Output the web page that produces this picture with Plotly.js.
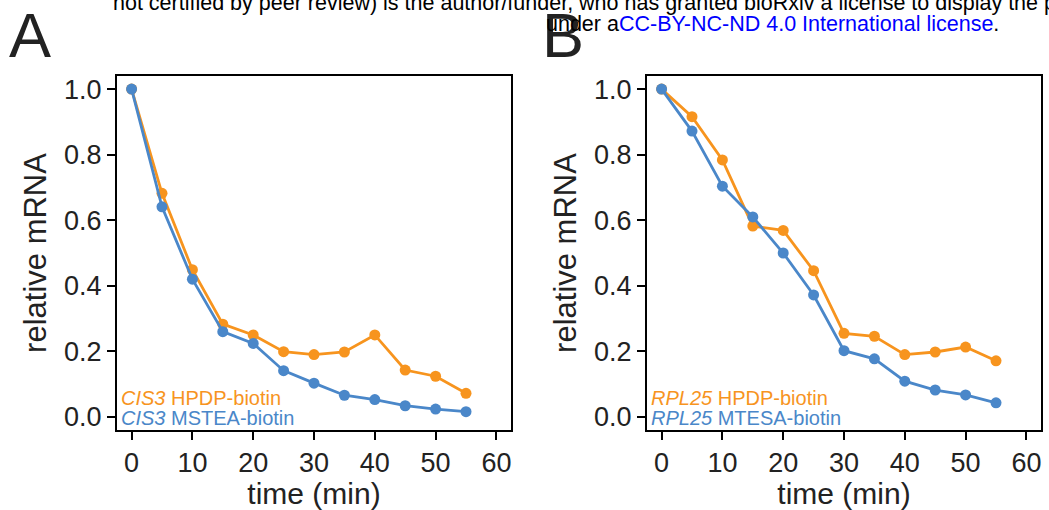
<!DOCTYPE html>
<html>
<head>
<meta charset="utf-8">
<script src="https://cdn.plot.ly/plotly-3.0.1.min.js"></script>
<style>html,body{margin:0;padding:0;background:#fff;}#chart{width:1049px;height:510px;}</style>
</head>
<body>
<div id="chart"></div>
<script>
// time points (min)
const timeMin = [0, 5, 10, 15, 20, 25, 30, 35, 40, 45, 50, 55];

// Panel A: CIS3
const cis3HPDP  = [1.0, 0.682, 0.449, 0.283, 0.250, 0.199, 0.190, 0.198, 0.250, 0.143, 0.124, 0.072];
const cis3MSTEA = [1.0, 0.641, 0.420, 0.260, 0.224, 0.141, 0.103, 0.066, 0.053, 0.034, 0.024, 0.016];

// Panel B: RPL25
const rpl25HPDP  = [1.0, 0.916, 0.784, 0.582, 0.569, 0.446, 0.255, 0.246, 0.190, 0.198, 0.213, 0.171];
const rpl25MTESA = [1.0, 0.872, 0.704, 0.610, 0.500, 0.372, 0.202, 0.177, 0.109, 0.082, 0.067, 0.043];

const xTicks = [0, 10, 20, 30, 40, 50, 60];
const yTicks = [0, 0.2, 0.4, 0.6, 0.8, 1.0];

const W = 1049, H = 510;
const px = v => v / W;
const py = v => 1 - v / H;

const ORANGE = 'rgb(247,148,30)';
const BLUE = 'rgb(74,135,201)';
const FONT = 'Liberation Sans, Arial, Helvetica, sans-serif';

function series(x, y, color, name, xa, ya) {
  return {
    x: x, y: y, type: 'scatter', mode: 'lines+markers', name: name,
    xaxis: xa, yaxis: ya,
    line: {color: color, width: 2.8},
    marker: {color: color, size: 11},
    showlegend: false, cliponaxis: false
  };
}

const traces = [
  series(timeMin, cis3HPDP, ORANGE, 'CIS3 HPDP-biotin', 'x', 'y'),
  series(timeMin, cis3MSTEA, BLUE, 'CIS3 MSTEA-biotin', 'x', 'y'),
  series(timeMin, rpl25HPDP, ORANGE, 'RPL25 HPDP-biotin', 'x2', 'y2'),
  series(timeMin, rpl25MTESA, BLUE, 'RPL25 MTESA-biotin', 'x2', 'y2')
];

function xAxis(domain, anchor) {
  return {
    domain: domain, anchor: anchor, range: [-2.4, 62.4],
    tickvals: xTicks, ticktext: xTicks.map(String),
    ticks: 'outside', ticklen: 8, tickwidth: 2, tickcolor: '#000',
    showline: true, linecolor: '#000', linewidth: 2, mirror: true,
    showgrid: false, zeroline: false,
    tickfont: {family: FONT, size: 27, color: '#222'},
    title: {text: 'time (min)', font: {family: FONT, size: 30, color: '#222'}, standoff: 1}
  };
}
function yAxis(domain, anchor) {
  return {
    domain: domain, anchor: anchor, range: [-0.04, 1.04],
    tickvals: yTicks, tickformat: '.1f',
    ticks: 'outside', ticklen: 8, tickwidth: 2, tickcolor: '#000',
    showline: true, linecolor: '#000', linewidth: 2, mirror: true,
    showgrid: false, zeroline: false,
    tickfont: {family: FONT, size: 27, color: '#222'},
    title: {text: 'relative mRNA', font: {family: FONT, size: 31, color: '#222'}, standoff: 8}
  };
}

const yDom = [py(430), py(76)];

const annotations = [
  {text: 'A', x: px(7), y: py(35), xanchor: 'left', yanchor: 'middle', font: {family: FONT, size: 63, color: '#222'}},
  {text: 'B', x: px(540), y: py(35), xanchor: 'left', yanchor: 'middle', font: {family: FONT, size: 63, color: '#222'}},
  {text: 'not certified by peer review) is the author/funder, who has granted bioRxiv a license to display the p',
   x: px(111), y: py(3), xanchor: 'left', yanchor: 'middle', font: {family: FONT, size: 21.5, color: '#000'}},
  {text: 'under a<span style="color:#0000ff">CC-BY-NC-ND 4.0 International license</span>.',
   x: px(544), y: py(24), xanchor: 'left', yanchor: 'middle', font: {family: FONT, size: 21.5, color: '#000'}},
  {text: '<i>CIS3</i> HPDP-biotin', x: px(119), y: py(398), xanchor: 'left', yanchor: 'middle', font: {family: FONT, size: 20, color: ORANGE}},
  {text: '<i>CIS3</i> MSTEA-biotin', x: px(119), y: py(418), xanchor: 'left', yanchor: 'middle', font: {family: FONT, size: 20, color: BLUE}},
  {text: '<i>RPL25</i> HPDP-biotin', x: px(649), y: py(398), xanchor: 'left', yanchor: 'middle', font: {family: FONT, size: 20, color: ORANGE}},
  {text: '<i>RPL25</i> MTESA-biotin', x: px(649), y: py(418), xanchor: 'left', yanchor: 'middle', font: {family: FONT, size: 20, color: BLUE}}
].map(a => Object.assign({xref: 'paper', yref: 'paper', showarrow: false}, a));

const layout = {
  width: W, height: H,
  margin: {l: 0, r: 0, t: 0, b: 0, pad: 0},
  paper_bgcolor: '#fff', plot_bgcolor: '#fff',
  font: {family: FONT},
  showlegend: false,
  xaxis: xAxis([px(117), px(511)], 'y'),
  yaxis: yAxis(yDom, 'x'),
  xaxis2: xAxis([px(647), px(1041)], 'y2'),
  yaxis2: yAxis(yDom, 'x2'),
  annotations: annotations
};

Plotly.newPlot('chart', traces, layout, {displayModeBar: false, staticPlot: true});
</script>
</body>
</html>
